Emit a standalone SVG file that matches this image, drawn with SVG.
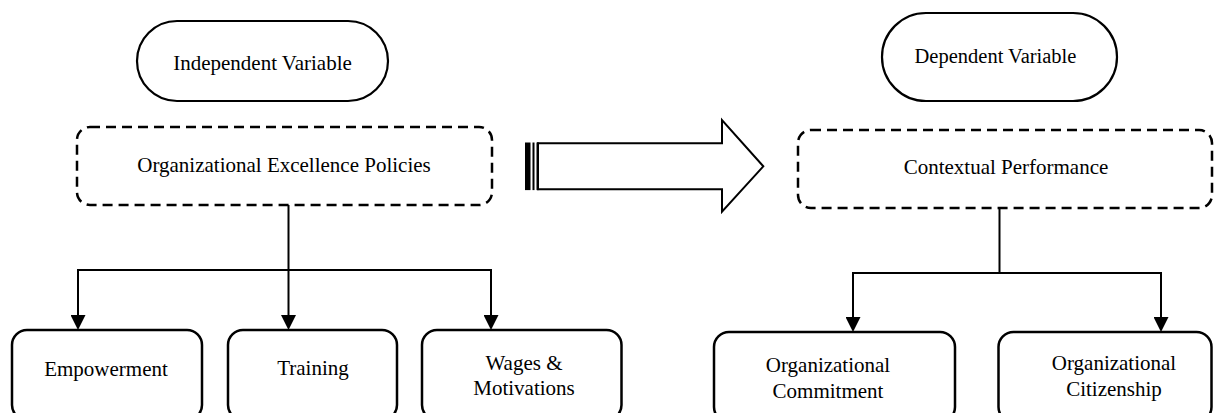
<svg xmlns="http://www.w3.org/2000/svg" width="1214" height="413" viewBox="0 0 1214 413">
<style>
.t{font-family:"Liberation Serif","Times New Roman",serif;font-size:21px;fill:#000;text-anchor:middle}
.pill{fill:#fff;stroke:#000;stroke-width:2.2}
.dash{fill:#fff;stroke:#000;stroke-width:2.5;stroke-dasharray:10 6}
.box{fill:#fff;stroke:#000;stroke-width:2.5}
.c{fill:none;stroke:#000;stroke-width:2}
</style>
<defs>
<marker id="ah" markerUnits="userSpaceOnUse" markerWidth="15" markerHeight="15" refX="7" refY="7.5" orient="auto">
<path d="M0,0 L15,7.5 L0,15 z" fill="#000"/>
</marker>
</defs>
<rect width="1214" height="413" fill="#fff"/>
<g id="independent-variable">
<rect class="pill" x="137" y="21" width="251" height="80" rx="40" ry="40"/>
<text class="t" x="262.5" y="70">Independent Variable</text>
</g>
<g id="org-excellence-policies">
<rect class="dash" x="77" y="127" width="415" height="78" rx="13" ry="13"/>
<text class="t" x="284" y="172">Organizational Excellence Policies</text>
</g>
<g id="dependent-variable">
<rect class="pill" x="882" y="13" width="235" height="88" rx="44" ry="44"/>
<text class="t" x="995.5" y="63" style="font-size:20.5px">Dependent Variable</text>
</g>
<g id="contextual-performance">
<rect class="dash" x="798" y="130" width="414" height="78" rx="13" ry="13"/>
<text class="t" x="1006" y="174">Contextual Performance</text>
</g>
<g id="big-arrow">
<path d="M538,143.3 H722 V120 L763.3,166.3 L722,211.7 V189.3 H538 Z" fill="#fff" stroke="#000" stroke-width="2"/>
<rect x="525" y="142.5" width="5.5" height="47.6" fill="#000"/>
<rect x="532.5" y="142.5" width="2" height="47.6" fill="#000"/>
<rect x="536.5" y="142.5" width="2.5" height="47.6" fill="#000"/>
</g>
<g id="empowerment">
<rect class="box" x="12" y="330" width="190" height="90" rx="15" ry="15"/>
<text class="t" x="106" y="375.5">Empowerment</text>
</g>
<g id="training">
<rect class="box" x="228" y="330" width="169" height="90" rx="15" ry="15"/>
<text class="t" x="313" y="375">Training</text>
</g>
<g id="wages-motivations">
<rect class="box" x="422" y="330" width="199.5" height="90" rx="15" ry="15"/>
<text class="t" x="524" y="370">Wages &amp;</text>
<text class="t" x="524" y="395">Motivations</text>
</g>
<g id="org-commitment">
<rect class="box" x="714" y="332" width="241" height="90" rx="15" ry="15"/>
<text class="t" x="828" y="372">Organizational</text>
<text class="t" x="828" y="398">Commitment</text>
</g>
<g id="org-citizenship">
<rect class="box" x="998.5" y="332" width="213" height="90" rx="15" ry="15"/>
<text class="t" x="1114" y="370">Organizational</text>
<text class="t" x="1114" y="396">Citizenship</text>
</g>
<g id="connectors">
<path class="c" d="M78,270 H491"/>
<path class="c" d="M288.5,205 V322" marker-end="url(#ah)"/>
<path class="c" d="M78,269 V322" marker-end="url(#ah)"/>
<path class="c" d="M491,269 V322" marker-end="url(#ah)"/>
<path class="c" d="M999.5,208 V273"/>
<path class="c" d="M853,273 H1161"/>
<path class="c" d="M853,272 V324" marker-end="url(#ah)"/>
<path class="c" d="M1161,272 V324" marker-end="url(#ah)"/>
</g>
</svg>
